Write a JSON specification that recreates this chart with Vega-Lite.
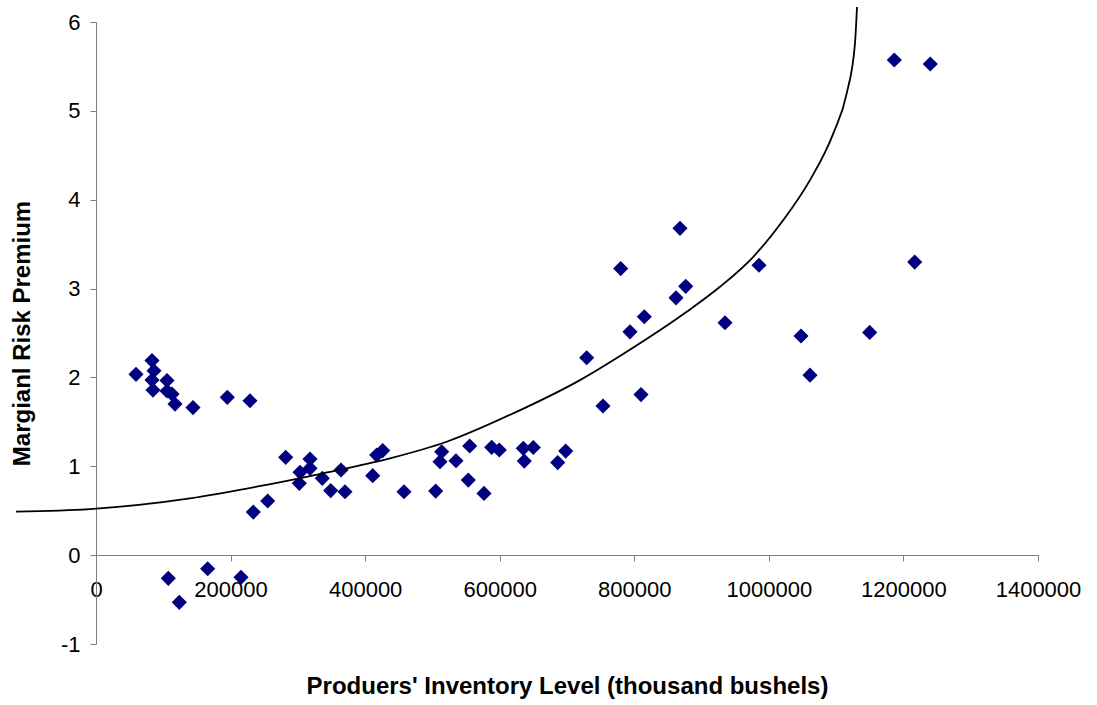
{
  "$schema": "https://vega.github.io/schema/vega-lite/v6.json",
  "width": 942,
  "height": 622,
  "autosize": "none",
  "padding": {"left": 96, "top": 22, "right": 59, "bottom": 61},
  "background": "white",
  "config": {
    "view": {"stroke": null},
    "font": "Liberation Sans",
    "axis": {"grid": false, "domainColor": "#808080", "tickColor": "#808080", "labelColor": "black", "titleColor": "black", "labelFont": "Liberation Sans", "titleFont": "Liberation Sans"}
  },
  "datasets": {
    "points": [
      {"inventory": 59450, "premium": 2.035},
      {"inventory": 83230, "premium": 2.19},
      {"inventory": 86200, "premium": 2.075},
      {"inventory": 83230, "premium": 1.97},
      {"inventory": 84710, "premium": 1.858},
      {"inventory": 105520, "premium": 1.965},
      {"inventory": 105520, "premium": 1.847},
      {"inventory": 112950, "premium": 1.813},
      {"inventory": 117410, "premium": 1.7},
      {"inventory": 144160, "premium": 1.661},
      {"inventory": 195140, "premium": 1.776},
      {"inventory": 228870, "premium": 1.738},
      {"inventory": 233780, "premium": 0.485},
      {"inventory": 255180, "premium": 0.609},
      {"inventory": 281930, "premium": 1.101},
      {"inventory": 318050, "premium": 1.081},
      {"inventory": 318050, "premium": 0.977},
      {"inventory": 303180, "premium": 0.932},
      {"inventory": 302140, "premium": 0.808},
      {"inventory": 336330, "premium": 0.864},
      {"inventory": 348810, "premium": 0.727},
      {"inventory": 370060, "premium": 0.713},
      {"inventory": 364120, "premium": 0.958},
      {"inventory": 411230, "premium": 0.894},
      {"inventory": 417180, "premium": 1.126},
      {"inventory": 426090, "premium": 1.177},
      {"inventory": 457750, "premium": 0.713},
      {"inventory": 504860, "premium": 0.721},
      {"inventory": 513780, "premium": 1.164},
      {"inventory": 511250, "premium": 1.051},
      {"inventory": 535030, "premium": 1.062},
      {"inventory": 555390, "premium": 1.228},
      {"inventory": 553310, "premium": 0.845},
      {"inventory": 576640, "premium": 0.695},
      {"inventory": 588090, "premium": 1.213},
      {"inventory": 599380, "premium": 1.183},
      {"inventory": 635050, "premium": 1.202},
      {"inventory": 649910, "premium": 1.211},
      {"inventory": 636540, "premium": 1.059},
      {"inventory": 698070, "premium": 1.171},
      {"inventory": 686180, "premium": 1.042},
      {"inventory": 729280, "premium": 2.221},
      {"inventory": 753490, "premium": 1.678},
      {"inventory": 809970, "premium": 1.807},
      {"inventory": 779800, "premium": 3.225},
      {"inventory": 793630, "premium": 2.513},
      {"inventory": 814880, "premium": 2.683},
      {"inventory": 862000, "premium": 2.896},
      {"inventory": 876410, "premium": 3.025},
      {"inventory": 867940, "premium": 3.678},
      {"inventory": 934820, "premium": 2.615},
      {"inventory": 985350, "premium": 3.262},
      {"inventory": 1047770, "premium": 2.466},
      {"inventory": 1061150, "premium": 2.025},
      {"inventory": 1149870, "premium": 2.507},
      {"inventory": 1216750, "premium": 3.298},
      {"inventory": 1186430, "premium": 5.572},
      {"inventory": 1239930, "premium": 5.527},
      {"inventory": 107450, "premium": -0.261},
      {"inventory": 123800, "premium": -0.531},
      {"inventory": 166010, "premium": -0.153},
      {"inventory": 215500, "premium": -0.25}
    ],
    "curve": [
      {"inventory": -118900, "premium": 0.49},
      {"inventory": -8900, "premium": 0.519},
      {"inventory": 139700, "premium": 0.639},
      {"inventory": 238800, "premium": 0.77},
      {"inventory": 337400, "premium": 0.921},
      {"inventory": 436900, "premium": 1.089},
      {"inventory": 521200, "premium": 1.276},
      {"inventory": 620200, "premium": 1.596},
      {"inventory": 719300, "premium": 1.97},
      {"inventory": 788700, "premium": 2.289},
      {"inventory": 877900, "premium": 2.739},
      {"inventory": 927400, "premium": 3.02},
      {"inventory": 976900, "premium": 3.358},
      {"inventory": 1021500, "premium": 3.771},
      {"inventory": 1061100, "premium": 4.221},
      {"inventory": 1095800, "premium": 4.747},
      {"inventory": 1115700, "premium": 5.197},
      {"inventory": 1128000, "premium": 5.76},
      {"inventory": 1131000, "premium": 6.168}
    ]
  },
  "layer": [
    {
      "data": {"name": "points"},
      "mark": {"type": "point", "shape": "diamond", "filled": true, "size": 230, "color": "#000080", "opacity": 1},
      "encoding": {
        "x": {
          "field": "inventory", "type": "quantitative",
          "scale": {"domain": [0, 1400000], "nice": false, "zero": false},
          "axis": {
            "title": "Produers' Inventory Level (thousand bushels)",
            "values": [0, 200000, 400000, 600000, 800000, 1000000, 1200000, 1400000],
            "labelExpr": "'' + datum.value",
            "offset": -89,
            "labelFontSize": 22,
            "labelPadding": 18,
            "tickSize": 6,
            "labelFlush": false,
            "labelOverlap": false,
            "titleFontSize": 24,
            "titleFontWeight": "bold",
            "titleY": 138,
            "titleBaseline": "alphabetic"
          }
        },
        "y": {
          "field": "premium", "type": "quantitative",
          "scale": {"domain": [-1, 6], "nice": false, "zero": false},
          "axis": {
            "title": "Margianl Risk Premium",
            "values": [-1, 0, 1, 2, 3, 4, 5, 6],
            "labelExpr": "'' + datum.value",
            "labelFontSize": 22,
            "labelPadding": 10,
            "tickSize": 6,
            "labelFlush": false,
            "labelOverlap": false,
            "titleFontSize": 24,
            "titleFontWeight": "bold",
            "titleX": -67,
            "titleBaseline": "alphabetic"
          }
        }
      }
    },
    {
      "data": {"name": "curve"},
      "mark": {"type": "line", "color": "black", "strokeWidth": 1.8, "interpolate": "monotone", "clip": false},
      "encoding": {
        "x": {"field": "inventory", "type": "quantitative"},
        "y": {"field": "premium", "type": "quantitative"},
        "order": {"field": "inventory", "type": "quantitative"}
      }
    }
  ]
}
